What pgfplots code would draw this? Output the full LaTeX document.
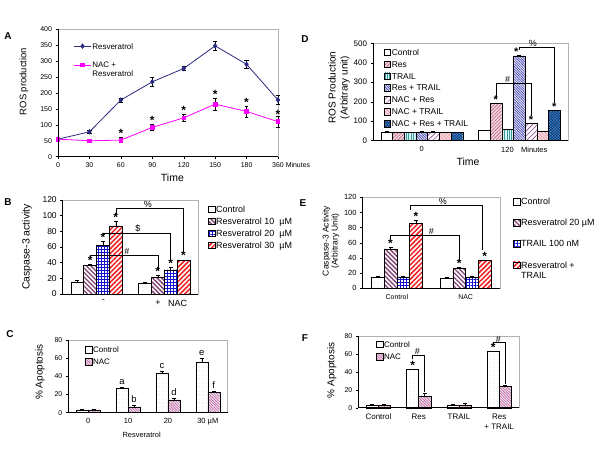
\documentclass[border=0pt]{standalone}
\usepackage{fontspec}
\setmainfont{Liberation Sans}
\usepackage{pgfplots}
\pgfplotsset{compat=1.18}
\usetikzlibrary{patterns,patterns.meta}

\definecolor{resblue}{HTML}{2A2A80}
\definecolor{nacmag}{HTML}{FF00FF}
\definecolor{plum}{HTML}{80406F}
\definecolor{gridblue}{HTML}{1414CC}
\definecolor{stripred}{HTML}{F01C1C}
\definecolor{dresf}{HTML}{F6D6E2}
\definecolor{dresl}{HTML}{B0607A}
\definecolor{dtrf}{HTML}{D6F6F6}
\definecolor{dtrl}{HTML}{3A9A9A}
\definecolor{drtf}{HTML}{DADAF8}
\definecolor{drtl}{HTML}{3535A0}
\definecolor{dnrl}{HTML}{904090}
\definecolor{dntf}{HTML}{FBDDE2}
\definecolor{dntl}{HTML}{E08095}
\definecolor{dnrtf}{HTML}{3A8FD0}
\definecolor{dnrtl}{HTML}{12306E}
\definecolor{nacf}{HTML}{F3DCEB}
\definecolor{nacl}{HTML}{B25A9A}

\tikzset{
  pctrl/.style={fill=white, draw=black, postaction={pattern color=gray!80, pattern={Dots[distance=4pt,radius=0.35pt]}}},
  pres10/.style={fill=white, draw=black, postaction={pattern color=plum, pattern={Lines[angle=-45,distance=3.2pt,line width=1.3pt]}}},
  pres20/.style={fill=white, draw=black, postaction={pattern color=gridblue, pattern={Hatch[angle=0,distance=3pt,line width=0.8pt]}}},
  pres30/.style={fill=white, draw=black, postaction={pattern color=stripred, pattern={Lines[angle=45,distance=3.4pt,line width=1.5pt]}}},
  dctrl/.style={fill=white, draw=black},
  dres/.style={fill=dresf, draw=black, postaction={pattern color=dresl, pattern={Lines[angle=45,distance=2.4pt,line width=0.6pt]}}},
  dtrail/.style={fill=dtrf, draw=black, postaction={pattern color=dtrl, pattern={Lines[angle=90,distance=2.4pt,line width=0.8pt]}}},
  drt/.style={fill=drtf, draw=black, postaction={pattern color=drtl, pattern={Lines[angle=-45,distance=1.8pt,line width=0.5pt]}}},
  dnr/.style={fill=white, draw=black, postaction={pattern color=dnrl, pattern={Lines[angle=45,distance=3.5pt,line width=0.6pt]}}},
  dnt/.style={fill=dntf, draw=black, postaction={pattern color=dntl, pattern={Lines[angle=-45,distance=2.4pt,line width=0.45pt]}}},
  dnrt/.style={fill=dnrtf, draw=black, postaction={pattern color=dnrtl, pattern={Hatch[angle=45,distance=2pt,line width=0.5pt]}}},
  pnac/.style={fill=nacf, draw=black, postaction={pattern color=nacl, pattern={Lines[angle=-45,distance=1.9pt,line width=0.5pt]}}},
  star/.style={font=\bfseries\fontsize{12}{14}\selectfont, inner sep=0pt, anchor=base, yshift=-1bp},
  brk/.style={black, line width=0.5pt},
  sym/.style={font=\fontsize{9}{10}\selectfont, inner sep=0.5bp, anchor=south},
  lett/.style={font=\fontsize{9.5}{11}\selectfont, inner sep=0pt, anchor=base},
  plab/.style={font=\bfseries\fontsize{10}{12}\selectfont, inner sep=0pt},
}

\pgfplotsset{
  sqlegend/.style={legend image code/.code={\draw[##1] (0bp,-0.2bp) rectangle (6.5bp,6.3bp);}},
  ebp/.style={/pgfplots/error bars/y dir=plus, /pgfplots/error bars/y explicit},
  ebb/.style={/pgfplots/error bars/y dir=both, /pgfplots/error bars/y explicit},
  panel/.style={
    scale only axis, anchor=north west, clip=false,
    axis line style={gray!60, line width=0.5pt},
    tick align=outside, xtick pos=bottom, ytick pos=left,
    major tick length=2.5bp,
    tick style={black, line width=0.4pt},
    /pgf/number format/assume math mode=true,
    error bars/error bar style={black, line width=0.5pt, solid},
    after end axis/.code={\draw[black, line width=0.5pt] (rel axis cs:0,1) -- (rel axis cs:0,0) -- (rel axis cs:1,0);},
    legend cell align=left,
    legend style={draw=none, fill=none, inner sep=0pt, anchor=north west, cells={anchor=base west}, nodes={inner sep=1bp}},
  },
  barpanel/.style={panel, ybar, xtick style={draw=none}, sqlegend},
}

\begin{document}
\begin{tikzpicture}[x=1bp,y=1bp]
\path[use as bounding box, fill=white] (0,0) rectangle (600,450);

% ---------------- A ----------------
\node[plab] at (8,414) {A};
\begin{axis}[panel, at={(58bp,420.7bp)}, width=220bp, height=127.4bp,
  xmin=0, xmax=7, ymin=0, ymax=400, ytick={0,50,...,400},
  xtick={0,...,7}, xticklabels={0,30,60,90,120,150,180,{360\rlap{ Minutes}}},
  tick label style={font=\fontsize{7}{8}\selectfont},
  xlabel={Time}, xlabel style={font=\fontsize{10.5}{12}\selectfont, at={(axis description cs:0.52,-0.167)}, anchor=center},
  ylabel={ROS production}, ylabel style={font=\fontsize{9.5}{11}\selectfont, at={(axis description cs:-0.155,0.59)}, anchor=center},
  legend style={at={(axis description cs:0.07,0.9)}, font=\fontsize{8}{9}\selectfont, row sep=9bp},
  legend image post style={yshift=2.8bp},
]
\addplot[resblue, line width=0.8pt, mark=diamond*, mark size=2.2bp, ebb]
 coordinates {(0,55)+-(0,5) (1,78)+-(0,4) (2,178)+-(0,7) (3,235)+-(0,14) (4,277)+-(0,6) (5,348)+-(0,14) (6,290)+-(0,12) (7,178)+-(0,14)};
\addlegendentry{Resveratrol}
\addplot[nacmag, line width=0.8pt, mark=square*, mark size=1.8bp, ebb]
 coordinates {(0,55)+-(0,5) (1,50)+-(0,3) (2,52)+-(0,8) (3,92)+-(0,10) (4,122)+-(0,12) (5,165)+-(0,20) (6,142)+-(0,18) (7,110)+-(0,18)};
\addlegendentry{\begin{tabular}[t]{@{}l@{}}NAC +\\Resveratrol\end{tabular}}
\node[star] at (axis cs:2,62) {*};
\node[star] at (axis cs:3,104) {*};
\node[star] at (axis cs:4,136) {*};
\node[star] at (axis cs:5,187) {*};
\node[star] at (axis cs:6,162) {*};
\node[star] at (axis cs:7,124) {*};
\end{axis}

% ---------------- D ----------------
\node[plab] at (305,411) {D};
\begin{axis}[barpanel, at={(373bp,406.7bp)}, width=195bp, height=97.4bp,
  xmin=-0.5, xmax=1.5, ymin=0, ymax=500, ytick={0,100,...,500}, bar width=0.12,
  xtick={0,1}, xticklabels={0,{\hspace*{10bp}120\quad Minutes}},
  yticklabel style={font=\fontsize{8}{9}\selectfont},
  xticklabel style={font=\fontsize{7.5}{9}\selectfont},
  xlabel={Time}, xlabel style={font=\fontsize{10.5}{12}\selectfont, at={(axis description cs:0.487,-0.22)}, anchor=center},
  ylabel={ROS Production\\(Arbitrary unit)}, ylabel style={align=center, font=\fontsize{10}{12}\selectfont, at={(axis description cs:-0.174,0.546)}, anchor=center},
  legend style={at={(axis description cs:0.055,0.95)}, font=\fontsize{8.5}{10}\selectfont, row sep=2.5bp},
]
\addplot[dctrl, bar shift=-0.36, ebp] coordinates {(0,45)+-(0,2) (1,53)+-(0,3)};
\addlegendentry{Control}
\addplot[dres, bar shift=-0.24, ebp] coordinates {(0,43)+-(0,2) (1,190)+-(0,5)};
\addlegendentry{Res}
\addplot[dtrail, bar shift=-0.12, ebp] coordinates {(0,42)+-(0,2) (1,57)+-(0,2)};
\addlegendentry{TRAIL}
\addplot[drt, bar shift=0, ebp] coordinates {(0,45)+-(0,2) (1,435)+-(0,5)};
\addlegendentry{Res + TRAIL}
\addplot[dnr, bar shift=0.12, ebp] coordinates {(0,45)+-(0,2) (1,88)+-(0,4)};
\addlegendentry{NAC + Res}
\addplot[dnt, bar shift=0.24, ebp] coordinates {(0,43)+-(0,2) (1,48)+-(0,3)};
\addlegendentry{NAC + TRAIL}
\addplot[dnrt, bar shift=0.36, ebp] coordinates {(0,42)+-(0,2) (1,155)+-(0,4)};
\addlegendentry{NAC + Res + TRAIL}
\node[star, font=\bfseries\fontsize{11}{12}\selectfont] at (axis cs:0.76,197) {*};
\node[star, font=\bfseries\fontsize{11}{12}\selectfont] at (axis cs:0.97,442) {*};
\node[star, font=\bfseries\fontsize{11}{12}\selectfont] at (axis cs:1.12,94) {*};
\node[star, font=\bfseries\fontsize{11}{12}\selectfont] at (axis cs:1.36,161) {*};
\draw[brk] (axis cs:0.76,222) -- (axis cs:0.76,297) -- (axis cs:1.12,297) -- (axis cs:1.12,125);
\node[sym] at (axis cs:0.88,297) {\#};
\draw[brk] (axis cs:1.0,465) -- (axis cs:1.0,481) -- (axis cs:1.36,481) -- (axis cs:1.36,192);
\node[sym] at (axis cs:1.14,481) {\%};
\end{axis}

% ---------------- B ----------------
\node[plab] at (8,248) {B};
\begin{axis}[barpanel, at={(62.7bp,250bp)}, width=135.3bp, height=94bp,
  xmin=-0.5, xmax=1.5, ymin=0, ymax=120, ytick={0,20,...,120}, bar width=0.19,
  xtick={0.1,0.91,1.2}, xticklabels={-,+,NAC},
  yticklabel style={font=\fontsize{8.5}{10}\selectfont},
  xticklabel style={font=\fontsize{9}{10}\selectfont},
  ylabel={Caspase-3 activity}, ylabel style={font=\fontsize{10.5}{12}\selectfont, at={(axis description cs:-0.264,0.5)}, anchor=center},
  legend style={at={(axis description cs:1.074,0.95)}, font=\fontsize{9}{10}\selectfont, row sep=2bp},
]
\addplot[pctrl, bar shift=-0.285, ebp] coordinates {(0,15)+-(0,2) (1,14)+-(0,1)};
\addlegendentry{Control}
\addplot[pres10, bar shift=-0.095, ebp] coordinates {(0,37)+-(0,1) (1,21)+-(0,3)};
\addlegendentry{Resveratrol 10\ \ µM}
\addplot[pres20, bar shift=0.095, ebp] coordinates {(0,62)+-(0,5) (1,31)+-(0,3)};
\addlegendentry{Resveratrol 20\ \ µM}
\addplot[pres30, bar shift=0.285, ebp] coordinates {(0,87)+-(0,6) (1,43)+-(0,0)};
\addlegendentry{Resveratrol 30\ \ µM}
\node[star] at (axis cs:-0.095,39) {*};
\node[star] at (axis cs:0.095,68) {*};
\node[star] at (axis cs:0.285,94) {*};
\node[star] at (axis cs:0.905,25) {*};
\node[star] at (axis cs:1.095,35) {*};
\node[star] at (axis cs:1.285,45) {*};
\draw[brk] (axis cs:-0.095,46) -- (axis cs:-0.095,50) -- (axis cs:0.905,50) -- (axis cs:0.905,31);
\node[sym] at (axis cs:0.45,50) {\#};
\draw[brk] (axis cs:0.095,74) -- (axis cs:0.095,77.5) -- (axis cs:1.095,77.5) -- (axis cs:1.095,41);
\node[sym] at (axis cs:0.61,77.5) {\$};
\draw[brk] (axis cs:0.285,101) -- (axis cs:0.285,110) -- (axis cs:1.285,110) -- (axis cs:1.285,51);
\node[sym] at (axis cs:0.76,110) {\%};
\end{axis}

% ---------------- E ----------------
\node[plab] at (303,247) {E};
\begin{axis}[barpanel, at={(362.5bp,252.7bp)}, width=137.5bp, height=91bp,
  xmin=-0.5, xmax=1.5, ymin=0, ymax=120, ytick={0,20,...,120}, bar width=0.185,
  xtick={0,1}, xticklabels={Control,NAC},
  yticklabel style={font=\fontsize{7.5}{9}\selectfont},
  xticklabel style={font=\fontsize{7}{8}\selectfont},
  ylabel={Caspase-3 Activity\\(Arbitrary Unit)}, ylabel style={align=center, font=\fontsize{8.5}{9}\selectfont, at={(axis description cs:-0.23,0.52)}, anchor=center},
  legend style={at={(axis description cs:1.095,1.0)}, font=\fontsize{9}{10}\selectfont, row sep=11bp},
]
\addplot[pctrl, bar shift=-0.2775, ebp] coordinates {(0,15)+-(0,1) (1,13)+-(0,1)};
\addlegendentry{Control}
\addplot[pres10, bar shift=-0.0925, ebp] coordinates {(0,52)+-(0,2) (1,27)+-(0,1)};
\addlegendentry{Resveratrol 20 µM}
\addplot[pres20, bar shift=0.0925, ebp] coordinates {(0,15)+-(0,1) (1,15)+-(0,1)};
\addlegendentry{TRAIL 100 nM}
\addplot[pres30, bar shift=0.2775, ebp] coordinates {(0,86)+-(0,4) (1,37)+-(0,0)};
\addlegendentry{\begin{tabular}[t]{@{}l@{}}Resveratrol +\\TRAIL\end{tabular}}
\node[star] at (axis cs:-0.0925,55) {*};
\node[star] at (axis cs:0.2775,91) {*};
\node[star] at (axis cs:0.9075,29) {*};
\node[star] at (axis cs:1.2775,38) {*};
\draw[brk] (axis cs:-0.0925,64) -- (axis cs:-0.0925,70) -- (axis cs:0.9075,70) -- (axis cs:0.9075,37);
\node[sym] at (axis cs:0.5,70) {\#};
\draw[brk] (axis cs:0.2,103) -- (axis cs:0.2,110) -- (axis cs:1.24,110) -- (axis cs:1.24,50);
\node[sym] at (axis cs:0.67,110) {\%};
\end{axis}

% ---------------- C ----------------
\node[plab] at (10,116) {C};
\begin{axis}[barpanel, at={(68.3bp,110bp)}, width=159.4bp, height=72.7bp,
  xmin=-0.5, xmax=3.5, ymin=0, ymax=80, ytick={0,20,...,80}, bar width=0.3,
  xtick={0,1,2,3}, xticklabels={0,10,20,{30 µM}},
  yticklabel style={font=\fontsize{7}{8}\selectfont},
  xticklabel style={font=\fontsize{7.5}{9}\selectfont},
  xlabel={Resveratrol}, xlabel style={font=\fontsize{7.5}{9}\selectfont, at={(axis description cs:0.46,-0.307)}, anchor=center},
  ylabel={\% Apoptosis}, ylabel style={font=\fontsize{10}{12}\selectfont, at={(axis description cs:-0.178,0.56)}, anchor=center},
  legend style={at={(axis description cs:0.105,0.92)}, font=\fontsize{8}{9}\selectfont, row sep=3bp},
]
\addplot[pctrl, bar shift=-0.15, ebp] coordinates {(0,3)+-(0,0.3) (1,27)+-(0,1) (2,43)+-(0,2.5) (3,56)+-(0,3.5)};
\addlegendentry{Control}
\addplot[pnac, bar shift=0.15, ebp] coordinates {(0,3)+-(0,0.3) (1,6.5)+-(0,2) (2,14)+-(0,1.5) (3,22.5)+-(0,1.5)};
\addlegendentry{NAC}
\node[lett] at (axis cs:0.85,31) {a};
\node[lett] at (axis cs:1.15,11.5) {b};
\node[lett] at (axis cs:1.85,48.5) {c};
\node[lett] at (axis cs:2.15,18.5) {d};
\node[lett] at (axis cs:2.85,62.5) {e};
\node[lett] at (axis cs:3.15,27) {f};
\end{axis}

% ---------------- F ----------------
\node[plab] at (305,111.7) {F};
\begin{axis}[barpanel, at={(358.3bp,114bp)}, width=161bp, height=71.7bp,
  xmin=-0.5, xmax=3.5, ymin=0, ymax=80, ytick={0,20,...,80}, bar width=0.3,
  xtick={0,1,2,3}, xticklabels={Control,Res,TRAIL,{Res\\+ TRAIL}},
  yticklabel style={font=\fontsize{7}{8}\selectfont},
  xticklabel style={align=center, font=\fontsize{8}{10}\selectfont},
  ylabel={\% Apoptosis}, ylabel style={font=\fontsize{10}{12}\selectfont, at={(axis description cs:-0.165,0.52)}, anchor=center},
  legend style={at={(axis description cs:0.11,0.94)}, font=\fontsize{8}{9}\selectfont, row sep=3.5bp},
]
\addplot[pctrl, bar shift=-0.15, ebp] coordinates {(0,3)+-(0,0.5) (1,43)+-(0,0) (2,3)+-(0,0.5) (3,63)+-(0,0)};
\addlegendentry{Control}
\addplot[pnac, bar shift=0.15, ebp] coordinates {(0,3)+-(0,0.5) (1,13)+-(0,3) (2,3)+-(0,2) (3,23.5)+-(0,2)};
\addlegendentry{NAC}
\node[star] at (axis cs:0.85,44) {*};
\node[star] at (axis cs:2.85,64) {*};
\draw[brk] (axis cs:0.85,54) -- (axis cs:0.85,59) -- (axis cs:1.15,59) -- (axis cs:1.15,18);
\node[sym] at (axis cs:0.97,59) {\#};
\draw[brk] (axis cs:2.85,69) -- (axis cs:2.85,72.5) -- (axis cs:3.15,72.5) -- (axis cs:3.15,26);
\node[sym] at (axis cs:2.98,72.5) {\#};
\end{axis}
\end{tikzpicture}
\end{document}
